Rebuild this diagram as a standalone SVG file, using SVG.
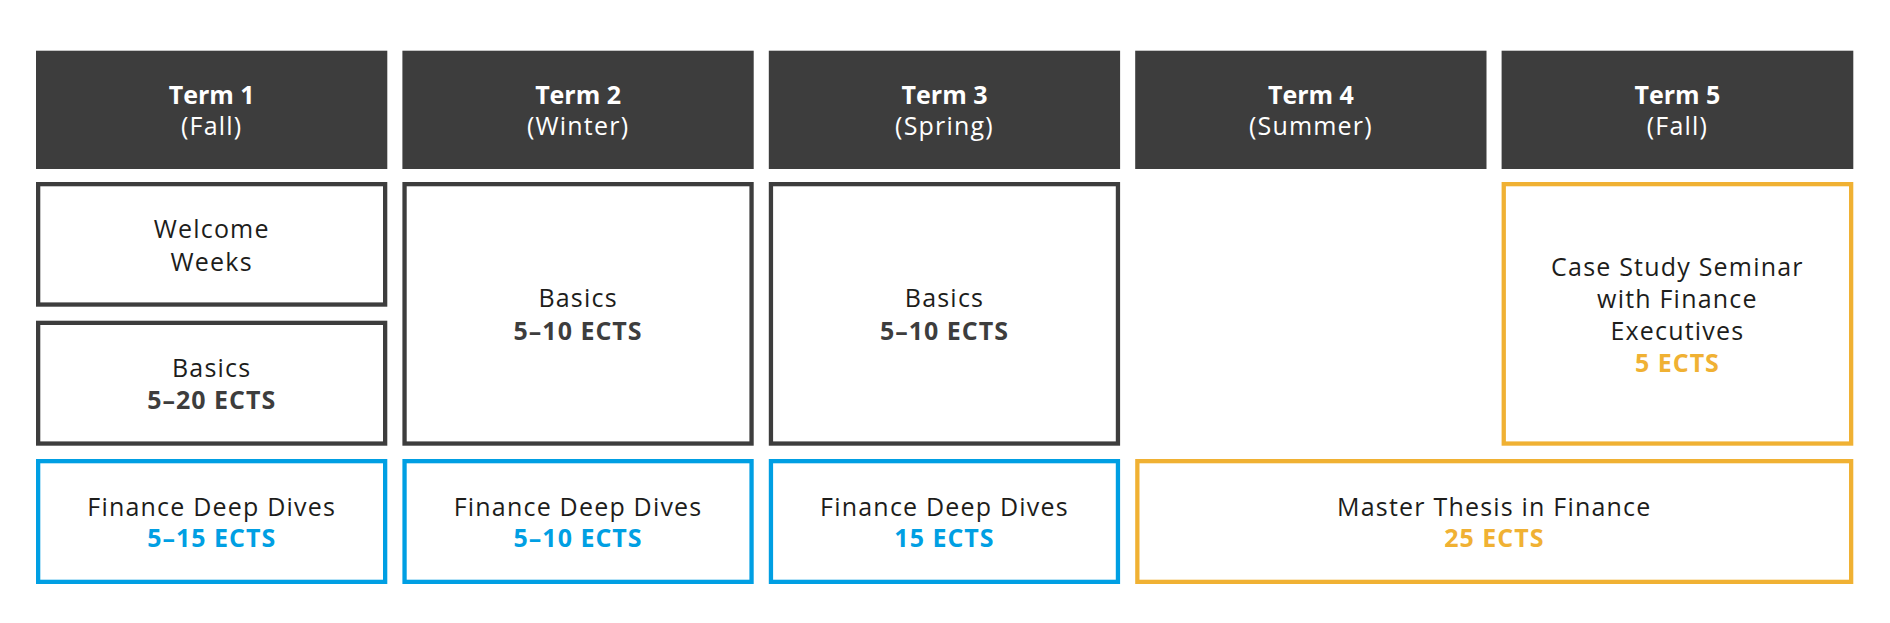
<svg xmlns="http://www.w3.org/2000/svg" width="1890" height="623" viewBox="0 0 1890 623">
<style>
.hd{fill:#3d3d3d;}
.bx{fill:#fff;stroke-width:4.3;}
.dk{stroke:#3d3d3d;}
.bl{stroke:#009fe3;}
.yl{stroke:#f0b133;}
text{font-family:"Open Sans","Liberation Sans",sans-serif;font-size:25px;text-anchor:middle;fill:#1d1d1b;letter-spacing:1.2px;}
.ht{fill:#fff;}
.b{font-weight:700;letter-spacing:0;}
.tb{fill:#3d3d3d;font-weight:700;letter-spacing:1px;}
.tbl{fill:#009fe3;font-weight:700;letter-spacing:1px;}
.tyl{fill:#f0b133;font-weight:700;letter-spacing:1px;}
</style>
<rect width="1890" height="623" fill="#fff"/>
<g id="term1-header"><rect class="hd" x="36" y="50.7" width="351.3" height="118.3"/><text class="ht b" x="211.7" y="104">Term 1</text><text class="ht" x="211.7" y="135">(Fall)</text></g>
<g id="term2-header"><rect class="hd" x="402.4" y="50.7" width="351.3" height="118.3"/><text class="ht b" x="578.1" y="104">Term 2</text><text class="ht" x="578.1" y="135">(Winter)</text></g>
<g id="term3-header"><rect class="hd" x="768.8" y="50.7" width="351.3" height="118.3"/><text class="ht b" x="944.5" y="104">Term 3</text><text class="ht" x="944.5" y="135">(Spring)</text></g>
<g id="term4-header"><rect class="hd" x="1135.2" y="50.7" width="351.3" height="118.3"/><text class="ht b" x="1310.9" y="104">Term 4</text><text class="ht" x="1310.9" y="135">(Summer)</text></g>
<g id="term5-header"><rect class="hd" x="1501.6" y="50.7" width="351.7" height="118.3"/><text class="ht b" x="1677.4" y="104">Term 5</text><text class="ht" x="1677.4" y="135">(Fall)</text></g>

<g id="welcome-weeks"><rect class="bx dk" x="38.15" y="184.15" width="347" height="120.4"/><text x="211.7" y="238.3">Welcome</text><text x="211.7" y="270.7">Weeks</text></g>
<g id="basics-1"><rect class="bx dk" x="38.15" y="322.85" width="347" height="120.7"/><text x="211.7" y="377.3">Basics</text><text class="tb" x="211.7" y="408.7">5–20 ECTS</text></g>
<g id="basics-2"><rect class="bx dk" x="404.55" y="184.15" width="347" height="259.4"/><text x="578.1" y="306.7">Basics</text><text class="tb" x="578.1" y="339.5">5–10 ECTS</text></g>
<g id="basics-3"><rect class="bx dk" x="770.95" y="184.15" width="347" height="259.4"/><text x="944.5" y="306.7">Basics</text><text class="tb" x="944.5" y="339.5">5–10 ECTS</text></g>
<g id="case-study"><rect class="bx yl" x="1503.75" y="184.15" width="347.4" height="259.4"/><text x="1677.4" y="275.7">Case Study Seminar</text><text x="1677.4" y="307.5">with Finance</text><text x="1677.4" y="339.5">Executives</text><text class="tyl" x="1677.4" y="371.5">5 ECTS</text></g>

<g id="deep-dives-1"><rect class="bx bl" x="38.15" y="461.15" width="347" height="120.7"/><text x="211.7" y="515.5">Finance Deep Dives</text><text class="tbl" x="211.7" y="547.3">5–15 ECTS</text></g>
<g id="deep-dives-2"><rect class="bx bl" x="404.55" y="461.15" width="347" height="120.7"/><text x="578.1" y="515.5">Finance Deep Dives</text><text class="tbl" x="578.1" y="547.3">5–10 ECTS</text></g>
<g id="deep-dives-3"><rect class="bx bl" x="770.95" y="461.15" width="347" height="120.7"/><text x="944.5" y="515.5">Finance Deep Dives</text><text class="tbl" x="944.5" y="547.3">15 ECTS</text></g>
<g id="master-thesis"><rect class="bx yl" x="1137.35" y="461.15" width="713.8" height="120.7"/><text x="1494.3" y="515.5">Master Thesis in Finance</text><text class="tyl" x="1494.3" y="547.3">25 ECTS</text></g>
<g id="connectors"></g>
</svg>
